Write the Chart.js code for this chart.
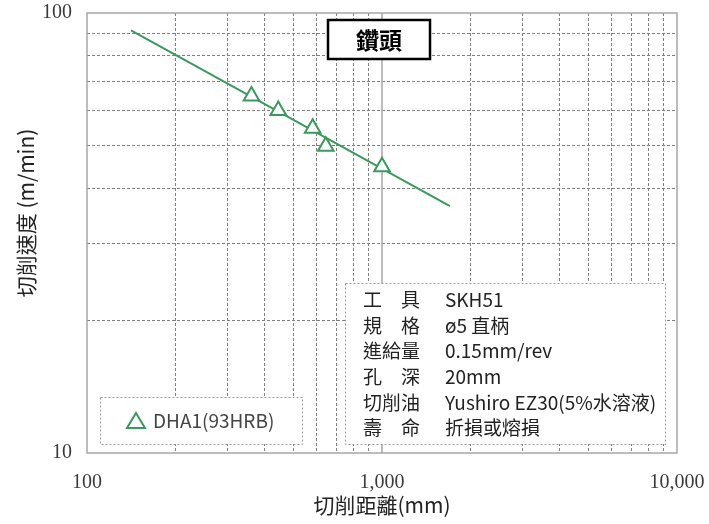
<!DOCTYPE html>
<html>
<head>
<meta charset="utf-8">
<script src="https://cdn.jsdelivr.net/npm/chart.js@4/dist/chart.umd.min.js"></script>
<style>
  html, body { margin: 0; padding: 0; background: #fff; }
  #wrap { width: 709px; height: 524px; }
</style>
</head>
<body>
<div id="wrap"><canvas id="chart"></canvas></div>
<script>
// measured points (cutting distance mm, cutting speed m/min)
const distances = [361, 445, 582, 645, 1000];
const speeds = [64.8, 60.0, 54.7, 49.8, 44.7];

// power trend line ends
const trendDist = [141, 1700];
const trendSpeed = [91.3, 36.4];

// grid ticks and the ones that carry a label
const xTicks = [100, 200, 300, 400, 500, 600, 700, 800, 900,
    1000, 2000, 3000, 4000, 5000, 6000, 7000, 8000, 9000, 10000];
const yTicks = [10, 20, 30, 40, 50, 60, 70, 80, 90, 100];
const xTickLabels = [100, 1000, 10000];
const yTickLabels = [10, 100];

const seriesName = 'DHA1(93HRB)';
const boxTitle = '鑽頭';
const infoLabels = ['工具', '規格', '進給量', '孔深', '切削油', '壽命'];
const infoValues = ['SKH51', 'ø5 直柄', '0.15mm/rev', '20mm', 'Yushiro EZ30(5%水溶液)', '折損或熔損'];

const green = '#3a9a5c';
const cjk = '"Noto Sans CJK TC", "Noto Sans", sans-serif';

// frame, 1000 line, boxes and y title
const decorations = {
    id: 'decorations',
    beforeDatasetsDraw(chart) {
        const ctx = chart.ctx;
        const a = chart.chartArea;
        const x1000 = chart.scales.x.getPixelForValue(1000);
        ctx.save();
        ctx.strokeStyle = '#a6a6a6';
        ctx.lineWidth = 1.5;
        ctx.beginPath();
        ctx.moveTo(x1000, a.top);
        ctx.lineTo(x1000, a.bottom);
        ctx.stroke();
        ctx.strokeRect(a.left, a.top, a.right - a.left, a.bottom - a.top);
        ctx.restore();
    },
    afterDraw(chart) {
        const ctx = chart.ctx;
        ctx.save();

        // title box
        ctx.fillStyle = '#fff';
        ctx.fillRect(328, 20, 102, 39);
        ctx.strokeStyle = '#000';
        ctx.lineWidth = 2.5;
        ctx.strokeRect(328, 20, 102, 39);
        ctx.fillStyle = '#000';
        ctx.font = 'bold 23px ' + cjk;
        ctx.textAlign = 'center';
        ctx.textBaseline = 'middle';
        ctx.fillText(boxTitle, 379, 40);

        // info box
        ctx.fillStyle = '#fff';
        ctx.fillRect(345, 283, 320, 161);
        ctx.strokeStyle = '#9a9a9a';
        ctx.lineWidth = 1;
        ctx.setLineDash([2, 2]);
        ctx.strokeRect(345.5, 283.5, 320, 161);
        ctx.setLineDash([]);
        ctx.fillStyle = '#222';
        ctx.font = '19px ' + cjk;
        ctx.textBaseline = 'middle';
        infoLabels.forEach((lab, i) => {
            const y = 300 + i * 25.6;
            if (lab.length === 2) {
                ctx.textAlign = 'left';
                ctx.fillText(lab[0], 363, y);
                ctx.textAlign = 'right';
                ctx.fillText(lab[1], 420, y);
            } else {
                ctx.textAlign = 'left';
                ctx.fillText(lab, 363, y);
            }
            ctx.textAlign = 'left';
            ctx.fillText(infoValues[i], 445, y);
        });

        // legend box
        ctx.fillStyle = '#fff';
        ctx.fillRect(100, 397, 202, 47);
        ctx.strokeStyle = '#9a9a9a';
        ctx.setLineDash([2, 2]);
        ctx.strokeRect(100.5, 397.5, 202, 47);
        ctx.setLineDash([]);
        ctx.strokeStyle = green;
        ctx.lineWidth = 2;
        ctx.beginPath();
        ctx.moveTo(136, 413);
        ctx.lineTo(145, 428);
        ctx.lineTo(127, 428);
        ctx.closePath();
        ctx.stroke();
        ctx.fillStyle = '#444';
        ctx.font = '19px ' + cjk;
        ctx.textAlign = 'left';
        ctx.fillText(seriesName, 153, 421);

        // y axis title
        ctx.translate(26, 213);
        ctx.rotate(-Math.PI / 2);
        ctx.fillStyle = '#222';
        ctx.font = '21px ' + cjk;
        ctx.textAlign = 'center';
        ctx.fillText('切削速度 (m/min)', 0, 0);
        ctx.restore();
    }
};

const minorGrid = (ctx) => {
    const v = ctx.tick && ctx.tick.value;
    if (v === 100 || v === 1000 || v === 10000 || v === 10) return 'rgba(0,0,0,0)';
    return '#808080';
};

new Chart(document.getElementById('chart'), {
    type: 'scatter',
    data: {
        datasets: [
            {
                label: seriesName,
                data: distances.map((d, i) => ({ x: d, y: speeds[i] })),
                pointStyle: 'triangle',
                pointRadius: 9,
                pointBorderWidth: 2,
                borderColor: green,
                backgroundColor: '#fff',
                order: 1
            },
            {
                label: 'trend',
                data: trendDist.map((d, i) => ({ x: d, y: trendSpeed[i] })),
                showLine: true,
                pointRadius: 0,
                borderColor: green,
                borderWidth: 2,
                order: 2
            }
        ]
    },
    options: {
        responsive: true,
        maintainAspectRatio: false,
        animation: false,
        layout: { padding: { top: 13, right: 32, left: 0, bottom: 0 } },
        plugins: {
            legend: { display: false },
            tooltip: { enabled: false }
        },
        scales: {
            x: {
                type: 'logarithmic',
                min: 100,
                max: 10000,
                afterBuildTicks(s) { s.ticks = xTicks.map(v => ({ value: v })); },
                afterFit(s) {
                    s.height = 71;
                    s.paddingLeft = 0;
                    s.paddingRight = 0;
                },
                grid: { color: minorGrid, lineWidth: 1, drawTicks: false },
                border: { display: false, dash: [3, 2] },
                ticks: {
                    padding: 20,
                    color: '#3a3a3a',
                    font: { family: '"Liberation Serif", serif', size: 20, lineHeight: 1 },
                    autoSkip: false,
                    maxRotation: 0,
                    callback: (v) => xTickLabels.includes(v) ? v.toLocaleString('en-US') : ''
                },
                title: {
                    display: true,
                    text: '切削距離(mm)',
                    color: '#222',
                    font: { family: cjk, size: 21 },
                    padding: { top: 0, bottom: 6 }
                }
            },
            y: {
                type: 'logarithmic',
                min: 10,
                max: 100,
                afterBuildTicks(s) { s.ticks = yTicks.map(v => ({ value: v })); },
                afterFit(s) {
                    s.width = 87;
                    s.paddingTop = 0;
                    s.paddingBottom = 0;
                },
                grid: { color: minorGrid, lineWidth: 1, drawTicks: false },
                border: { display: false, dash: [3, 2] },
                ticks: {
                    padding: 15,
                    color: '#3a3a3a',
                    font: { family: '"Liberation Serif", serif', size: 20, lineHeight: 1 },
                    autoSkip: false,
                    callback: (v) => yTickLabels.includes(v) ? String(v) : ''
                }
            }
        }
    },
    plugins: [decorations]
});
</script>
</body>
</html>
